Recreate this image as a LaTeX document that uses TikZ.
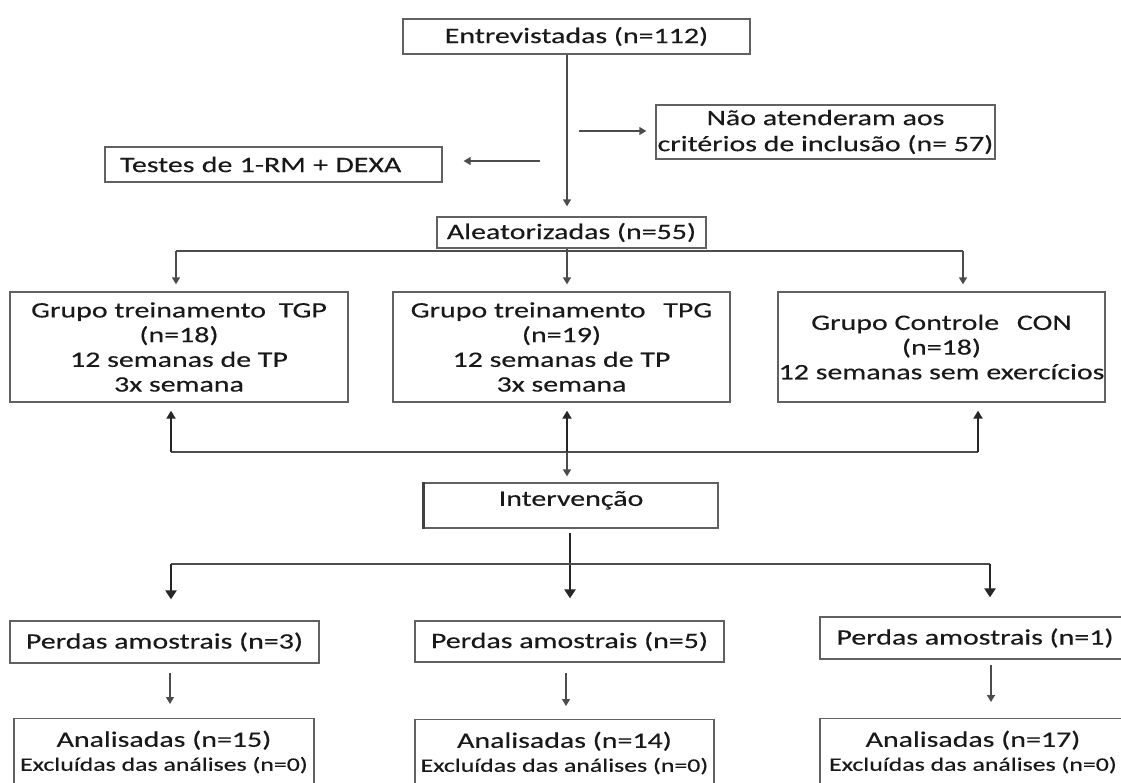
\documentclass[tikz,border=0pt]{standalone}
\usepackage{fontspec}
\setmainfont{Carlito}[FakeStretch=1.36, FakeBold=0.3]
\usetikzlibrary{arrows.meta}

\begin{document}
\begin{tikzpicture}[x=1pt,y=-1pt,
  box/.style={draw=black!62, line width=1.3pt, inner sep=0pt, align=center,
    text=black!90, font=\fontsize{22}{24.7}\selectfont},
  anbox/.style={box, anchor=north, inner ysep=12pt, text depth=60pt,
    font=\fontsize{22}{24}\selectfont},
  ln/.style={draw=black!70, line width=1.3pt},
  arr/.style={ln, -{Triangle[width=8pt,length=7pt]}},
  arrup/.style={draw=black!85, line width=2pt, -{Triangle[width=9pt,length=8pt]}},
  arrbig/.style={draw=black!85, line width=2.6pt, -{Triangle[width=11pt,length=9pt]}}]

\path[use as bounding box, fill=white] (0,0) rectangle (1121,782);
\clip (0,0) rectangle (1121,782);

% boxes
\node[box, minimum width=347pt, minimum height=35pt] (ent) at (576.5,36.5) {Entrevistadas (n=112)};
\node[box, minimum width=339pt, minimum height=54pt, font=\fontsize{22}{26}\selectfont] (nao) at (825.5,132)
  {Não atenderam aos\\critérios de inclusão (n= 57)};
\node[box, text width=307pt, inner xsep=15pt, minimum height=35pt, align=left] (tes) at (273.5,164.5)
  {Testes de 1-RM + DEXA};
\node[box, minimum width=269pt, minimum height=31pt] (ale) at (571.5,232.5) {Aleatorizadas (n=55)};

\node[box, minimum width=338pt, minimum height=110pt] (tgp) at (179,347)
  {Grupo treinamento\hspace{6pt} TGP\\(n=18)\\12 semanas de TP\\3x semana};
\node[box, minimum width=337pt, minimum height=110pt] (tpg) at (561.5,347)
  {Grupo treinamento\hspace{11pt} TPG\\(n=19)\\12 semanas de TP\\3x semana};
\node[box, minimum width=327pt, minimum height=110pt] (con) at (941.5,347)
  {Grupo Controle\hspace{11pt} CON\\(n=18)\\12 semanas sem exercícios};

\node[box, minimum width=294pt, minimum height=45pt, text depth=14pt] (int) at (571,505.5) {Intervenção};
\draw[line width=2.4pt, black!75] (int.north west) -- (int.south west);

\node[box, minimum width=309pt, minimum height=42pt] (per1) at (164.5,642) {Perdas amostrais (n=3)};
\node[box, minimum width=309pt, minimum height=41pt] (per2) at (569.5,641.5) {Perdas amostrais (n=5)};
\node[box, minimum width=310pt, minimum height=42pt] (per3) at (975,638) {Perdas amostrais (n=1)};

\node[anbox, minimum width=300pt] (an1) at (164,718)
  {Analisadas (n=15)\\{\fontsize{19}{24}\selectfont Excluídas das análises (n=0)}};
\node[anbox, minimum width=299pt] (an2) at (564.5,719)
  {Analisadas (n=14)\\{\fontsize{19}{24}\selectfont Excluídas das análises (n=0)}};
\node[anbox, minimum width=306pt] (an3) at (973,718)
  {Analisadas (n=17)\\{\fontsize{19}{24}\selectfont Excluídas das análises (n=0)}};

% screening
\coordinate (cx) at (567,0);
\draw[arr, shorten >=10pt] (ent.south -| cx) -- (ale.north -| cx);
\coordinate (nr) at (579,131);
\draw[arr, shorten >=9pt] (nr) -- (nao.west |- nr);
\coordinate (tl) at (540,161);
\draw[arr, shorten >=21pt] (tl) -- (tes.east |- tl);

% randomisation into three groups
\coordinate (b1) at (176,251);
\coordinate (b3) at (963,251);
\draw[ln] (b1) -- (b3);
\draw[arr, shorten >=7pt] (b1) -- (tgp.north -| b1);
\draw[arr, shorten >=7pt] (ale.south -| cx) -- (tpg.north -| cx);
\draw[arr, shorten >=7pt] (b3) -- (con.north -| b3);

% groups and intervention
\coordinate (u1) at (171,452);
\coordinate (u3) at (978,452);
\draw[ln] (u1) -- (u3);
\draw[arrup, shorten >=8pt] (u1) -- (tgp.south -| u1);
\draw[arrup, shorten >=8pt] (cx |- u1) -- (tpg.south -| cx);
\draw[arrup, shorten >=8pt] (u3) -- (con.south -| u3);
\draw[arr, shorten >=6pt] (cx |- u1) -- (int.north -| cx);

% losses
\coordinate (cy) at (570,0);
\draw[arrbig, shorten <=4pt, shorten >=22pt] (int.south -| cy) -- (per2.north -| cy);
\coordinate (d1) at (171,564);
\coordinate (d3) at (990,564);
\draw[ln] (d1) -- (d3);
\draw[arrbig, shorten >=21pt] (d1) -- (per1.north -| d1);
\draw[arrbig, shorten >=19pt] (d3) -- (per3.north -| d3);

% analysed
\coordinate (s1) at (170,0);
\coordinate (s2) at (566,0);
\coordinate (s3) at (991,0);
\draw[arr, shorten <=9pt, shorten >=14pt] (per1.south -| s1) -- (an1.north -| s1);
\draw[arr, shorten <=10pt, shorten >=13pt] (per2.south -| s2) -- (an2.north -| s2);
\draw[arr, shorten <=5pt, shorten >=16pt] (per3.south -| s3) -- (an3.north -| s3);
\end{tikzpicture}
\end{document}
